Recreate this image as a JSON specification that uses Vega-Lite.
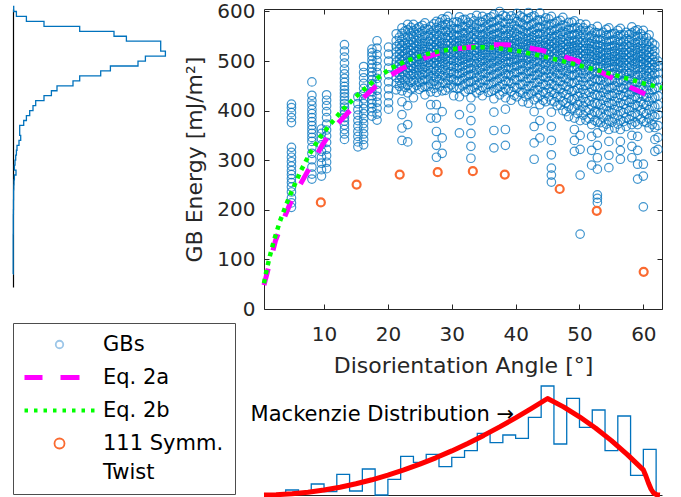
{
"$schema": "https://vega.github.io/schema/vega-lite/v6.json",
"padding": {"left": 10, "top": 1, "right": 6, "bottom": 2},
"bounds": "flush",
"spacing": 98,
"config": {
  "view": {"stroke": null},
  "font": "DejaVu Sans",
  "axis": {"labelFont": "DejaVu Sans", "titleFont": "DejaVu Sans", "labelColor": "#262626", "titleColor": "#262626", "domainColor": "#262626", "tickColor": "#262626", "grid": false, "titleFontWeight": "normal", "labelFlush": false},
  "style": {"guide-label": {"lineHeight": 29}}
},
"hconcat": [
{
  "width": 153, "height": 278,
  "data": {"values": [
    {"i":0,"c":0,"e":610},{"i":1,"c":0.7,"e":610},{"i":2,"c":3.4,"e":600},{"i":3,"c":13.4,"e":590},{"i":4,"c":31,"e":580},{"i":5,"c":66.7,"e":570},{"i":6,"c":101,"e":560},{"i":7,"c":113.4,"e":550},{"i":8,"c":147.7,"e":540},{"i":9,"c":147.7,"e":530},{"i":10,"c":152.4,"e":520},{"i":11,"c":132.4,"e":510},{"i":12,"c":125,"e":500},{"i":13,"c":97.4,"e":490},{"i":14,"c":87.7,"e":480},{"i":15,"c":66.7,"e":470},{"i":16,"c":60,"e":460},{"i":17,"c":44,"e":450},{"i":18,"c":38.4,"e":440},{"i":19,"c":31,"e":430},{"i":20,"c":22.7,"e":420},{"i":21,"c":20,"e":410},{"i":22,"c":16.7,"e":400},{"i":23,"c":13.4,"e":390},{"i":24,"c":10.7,"e":380},{"i":25,"c":6.7,"e":370},{"i":26,"c":6.7,"e":360},{"i":27,"c":7.7,"e":350},{"i":28,"c":6,"e":340},{"i":29,"c":4,"e":330},{"i":30,"c":3.4,"e":320},{"i":31,"c":2.7,"e":310},{"i":32,"c":2,"e":300},{"i":33,"c":1.4,"e":290},{"i":34,"c":3,"e":280},{"i":35,"c":1.4,"e":270},{"i":36,"c":1,"e":260},{"i":37,"c":0.8,"e":250},{"i":38,"c":0.6,"e":240},{"i":39,"c":0.6,"e":230},{"i":40,"c":0.5,"e":220},{"i":41,"c":0.5,"e":210},{"i":42,"c":0.4,"e":200},{"i":43,"c":0.3,"e":190},{"i":44,"c":0.3,"e":170},{"i":45,"c":0.2,"e":150},{"i":46,"c":0.2,"e":120},{"i":47,"c":0.2,"e":100},{"i":48,"c":0,"e":70}
  ]},
  "mark": {"type": "line", "interpolate": "step-before", "stroke": "#0072BD", "strokeWidth": 1.3},
  "encoding": {
    "x": {"field": "c", "type": "quantitative", "scale": {"domain": [0, 153], "nice": false}, "axis": null},
    "y": {"field": "e", "type": "quantitative", "scale": {"domain": [44, 605], "nice": false, "zero": false}, "axis": {"orient": "left", "ticks": false, "labels": false, "title": null, "domainColor": "#000000", "domainWidth": 1.2}},
    "order": {"field": "i", "type": "quantitative"}
  }
},
{
  "bounds": "flush",
  "spacing": 76,
  "vconcat": [
  {
    "width": 398, "height": 300,
    "resolve": {"axis": {"x": "independent", "y": "independent"}},
    "layer": [
    {
      "data": {"values": [
{"a":4.9,"e":205},{"a":4.9,"e":214},{"a":4.9,"e":224},{"a":4.9,"e":236},{"a":4.9,"e":246},{"a":4.9,"e":255},{"a":4.9,"e":263},{"a":4.9,"e":271},{"a":4.9,"e":279},{"a":4.9,"e":288},{"a":4.9,"e":297},{"a":4.9,"e":306},{"a":4.9,"e":316},{"a":4.9,"e":326},{"a":4.9,"e":376},{"a":4.9,"e":386},{"a":4.9,"e":396},{"a":4.9,"e":406},{"a":4.9,"e":413},
{"a":8.1,"e":262},{"a":8.1,"e":272},{"a":8.1,"e":286},{"a":8.1,"e":301},{"a":8.1,"e":314},{"a":8.1,"e":326},{"a":8.1,"e":338},{"a":8.1,"e":346},{"a":8.1,"e":354},{"a":8.1,"e":362},{"a":8.1,"e":370},{"a":8.1,"e":378},{"a":8.1,"e":386},{"a":8.1,"e":394},{"a":8.1,"e":402},{"a":8.1,"e":411},{"a":8.1,"e":420},{"a":8.1,"e":431},{"a":8.1,"e":458},
{"a":9.6,"e":268},{"a":9.6,"e":281},{"a":9.6,"e":294},{"a":9.6,"e":306},{"a":9.6,"e":318},{"a":9.6,"e":331},{"a":9.6,"e":343},{"a":9.6,"e":354},{"a":9.6,"e":363},
{"a":10.4,"e":283},{"a":10.4,"e":296},{"a":10.4,"e":309},{"a":10.4,"e":322},{"a":10.4,"e":336},{"a":10.4,"e":349},{"a":10.4,"e":361},{"a":10.4,"e":373},{"a":10.4,"e":386},{"a":10.4,"e":398},{"a":10.4,"e":410},{"a":10.4,"e":421},{"a":10.4,"e":432},
{"a":13.2,"e":342},{"a":13.2,"e":353},{"a":13.2,"e":362},{"a":13.2,"e":371},{"a":13.2,"e":379},{"a":13.2,"e":386},{"a":13.2,"e":393},{"a":13.2,"e":400},{"a":13.2,"e":407},{"a":13.2,"e":414},{"a":13.2,"e":421},{"a":13.2,"e":428},{"a":13.2,"e":435},{"a":13.2,"e":442},{"a":13.2,"e":449},{"a":13.2,"e":457},{"a":13.2,"e":465},{"a":13.2,"e":474},{"a":13.2,"e":484},{"a":13.2,"e":496},{"a":13.2,"e":508},{"a":13.2,"e":520},{"a":13.2,"e":533},
{"a":15.3,"e":327},{"a":15.3,"e":337},{"a":15.3,"e":348},{"a":15.3,"e":358},{"a":15.3,"e":369},{"a":15.3,"e":380},{"a":15.3,"e":391},{"a":15.3,"e":402},{"a":15.3,"e":414},{"a":15.3,"e":428},
{"a":16.2,"e":331},{"a":16.2,"e":342},{"a":16.2,"e":353},{"a":16.2,"e":364},{"a":16.2,"e":374},{"a":16.2,"e":384},{"a":16.2,"e":394},{"a":16.2,"e":404},{"a":16.2,"e":414},{"a":16.2,"e":424},{"a":16.2,"e":434},{"a":16.2,"e":445},{"a":16.2,"e":455},{"a":16.2,"e":466},{"a":16.2,"e":477},{"a":16.2,"e":489},
{"a":17.5,"e":389},{"a":17.5,"e":398},{"a":17.5,"e":406},{"a":17.5,"e":414},{"a":17.5,"e":422},{"a":17.5,"e":430},{"a":17.5,"e":438},{"a":17.5,"e":446},{"a":17.5,"e":454},{"a":17.5,"e":462},{"a":17.5,"e":470},{"a":17.5,"e":478},{"a":17.5,"e":486},{"a":17.5,"e":494},{"a":17.5,"e":502},{"a":17.5,"e":510},{"a":17.5,"e":517},{"a":17.5,"e":524},
{"a":18.3,"e":381},{"a":18.3,"e":393},{"a":18.3,"e":405},{"a":18.3,"e":417},{"a":18.3,"e":429},{"a":18.3,"e":441},{"a":18.3,"e":453},{"a":18.3,"e":465},{"a":18.3,"e":477},{"a":18.3,"e":489},{"a":18.3,"e":501},{"a":18.3,"e":513},{"a":18.3,"e":526},{"a":18.3,"e":541},
{"a":20.1,"e":403},{"a":20.1,"e":416},{"a":20.1,"e":430},{"a":20.1,"e":444},{"a":20.1,"e":458},{"a":20.1,"e":472},{"a":20.1,"e":486},{"a":20.1,"e":500},{"a":20.1,"e":514},{"a":20.1,"e":528},
{"a":21.3,"e":442},{"a":21.3,"e":455},{"a":21.3,"e":467},{"a":21.3,"e":478},{"a":21.3,"e":488},{"a":21.3,"e":498},{"a":21.3,"e":508},{"a":21.3,"e":518},{"a":21.3,"e":529},{"a":21.3,"e":541},{"a":21.3,"e":555},
{"a":22.2,"e":340},{"a":22.2,"e":365},{"a":22.2,"e":392},{"a":22.2,"e":418},{"a":22.2,"e":440},{"a":22.2,"e":454},{"a":22.2,"e":467},{"a":22.2,"e":479},{"a":22.2,"e":490},{"a":22.2,"e":500},{"a":22.2,"e":510},{"a":22.2,"e":520},{"a":22.2,"e":531},{"a":22.2,"e":543},{"a":22.2,"e":556},{"a":22.2,"e":567},
{"a":23.1,"e":337},{"a":23.1,"e":372},{"a":23.1,"e":410},{"a":23.1,"e":436},{"a":23.1,"e":451},{"a":23.1,"e":464},{"a":23.1,"e":476},{"a":23.1,"e":487},{"a":23.1,"e":497},{"a":23.1,"e":507},{"a":23.1,"e":517},{"a":23.1,"e":527},{"a":23.1,"e":538},{"a":23.1,"e":550},{"a":23.1,"e":563},{"a":23.1,"e":574},
{"a":24.0,"e":426},{"a":24.0,"e":446},{"a":24.0,"e":460},{"a":24.0,"e":473},{"a":24.0,"e":485},{"a":24.0,"e":496},{"a":24.0,"e":506},{"a":24.0,"e":516},{"a":24.0,"e":526},{"a":24.0,"e":537},{"a":24.0,"e":549},{"a":24.0,"e":561},{"a":24.0,"e":574},
{"a":24.9,"e":443},{"a":24.9,"e":457},{"a":24.9,"e":470},{"a":24.9,"e":482},{"a":24.9,"e":493},{"a":24.9,"e":503},{"a":24.9,"e":513},{"a":24.9,"e":523},{"a":24.9,"e":534},{"a":24.9,"e":545},{"a":24.9,"e":557},{"a":24.9,"e":569},
{"a":25.8,"e":432},{"a":25.8,"e":449},{"a":25.8,"e":463},{"a":25.8,"e":476},{"a":25.8,"e":488},{"a":25.8,"e":499},{"a":25.8,"e":509},{"a":25.8,"e":519},{"a":25.8,"e":529},{"a":25.8,"e":540},{"a":25.8,"e":552},{"a":25.8,"e":565},{"a":25.8,"e":577},
{"a":26.7,"e":385},{"a":26.7,"e":412},{"a":26.7,"e":438},{"a":26.7,"e":454},{"a":26.7,"e":468},{"a":26.7,"e":481},{"a":26.7,"e":493},{"a":26.7,"e":504},{"a":26.7,"e":514},{"a":26.7,"e":524},{"a":26.7,"e":534},{"a":26.7,"e":545},{"a":26.7,"e":557},{"a":26.7,"e":570},
{"a":27.6,"e":306},{"a":27.6,"e":330},{"a":27.6,"e":358},{"a":27.6,"e":385},{"a":27.6,"e":412},{"a":27.6,"e":437},{"a":27.6,"e":452},{"a":27.6,"e":466},{"a":27.6,"e":479},{"a":27.6,"e":491},{"a":27.6,"e":502},{"a":27.6,"e":512},{"a":27.6,"e":522},{"a":27.6,"e":532},{"a":27.6,"e":543},{"a":27.6,"e":555},{"a":27.6,"e":568},{"a":27.6,"e":580},
{"a":28.5,"e":314},{"a":28.5,"e":345},{"a":28.5,"e":398},{"a":28.5,"e":440},{"a":28.5,"e":456},{"a":28.5,"e":470},{"a":28.5,"e":483},{"a":28.5,"e":495},{"a":28.5,"e":506},{"a":28.5,"e":516},{"a":28.5,"e":526},{"a":28.5,"e":536},{"a":28.5,"e":547},{"a":28.5,"e":559},{"a":28.5,"e":572},{"a":28.5,"e":585},
{"a":29.4,"e":446},{"a":29.4,"e":461},{"a":29.4,"e":475},{"a":29.4,"e":488},{"a":29.4,"e":500},{"a":29.4,"e":511},{"a":29.4,"e":521},{"a":29.4,"e":531},{"a":29.4,"e":541},{"a":29.4,"e":552},{"a":29.4,"e":564},{"a":29.4,"e":577},{"a":29.4,"e":590},
{"a":30.3,"e":430},{"a":30.3,"e":447},{"a":30.3,"e":462},{"a":30.3,"e":476},{"a":30.3,"e":489},{"a":30.3,"e":501},{"a":30.3,"e":512},{"a":30.3,"e":522},{"a":30.3,"e":532},{"a":30.3,"e":542},{"a":30.3,"e":553},{"a":30.3,"e":565},{"a":30.3,"e":578},
{"a":31.2,"e":355},{"a":31.2,"e":392},{"a":31.2,"e":428},{"a":31.2,"e":446},{"a":31.2,"e":461},{"a":31.2,"e":475},{"a":31.2,"e":488},{"a":31.2,"e":500},{"a":31.2,"e":511},{"a":31.2,"e":521},{"a":31.2,"e":531},{"a":31.2,"e":541},{"a":31.2,"e":552},{"a":31.2,"e":564},{"a":31.2,"e":577},{"a":31.2,"e":589},
{"a":32.1,"e":438},{"a":32.1,"e":454},{"a":32.1,"e":468},{"a":32.1,"e":481},{"a":32.1,"e":493},{"a":32.1,"e":504},{"a":32.1,"e":514},{"a":32.1,"e":524},{"a":32.1,"e":534},{"a":32.1,"e":545},{"a":32.1,"e":557},{"a":32.1,"e":570},{"a":32.1,"e":584},
{"a":33.0,"e":304},{"a":33.0,"e":328},{"a":33.0,"e":354},{"a":33.0,"e":380},{"a":33.0,"e":405},{"a":33.0,"e":426},{"a":33.0,"e":443},{"a":33.0,"e":458},{"a":33.0,"e":472},{"a":33.0,"e":485},{"a":33.0,"e":497},{"a":33.0,"e":508},{"a":33.0,"e":518},{"a":33.0,"e":528},{"a":33.0,"e":538},{"a":33.0,"e":549},{"a":33.0,"e":561},{"a":33.0,"e":574},{"a":33.0,"e":587},
{"a":33.9,"e":436},{"a":33.9,"e":452},{"a":33.9,"e":467},{"a":33.9,"e":481},{"a":33.9,"e":494},{"a":33.9,"e":506},{"a":33.9,"e":517},{"a":33.9,"e":527},{"a":33.9,"e":537},{"a":33.9,"e":548},{"a":33.9,"e":560},{"a":33.9,"e":573},{"a":33.9,"e":592},
{"a":34.8,"e":430},{"a":34.8,"e":447},{"a":34.8,"e":462},{"a":34.8,"e":476},{"a":34.8,"e":489},{"a":34.8,"e":501},{"a":34.8,"e":512},{"a":34.8,"e":522},{"a":34.8,"e":532},{"a":34.8,"e":542},{"a":34.8,"e":553},{"a":34.8,"e":565},{"a":34.8,"e":578},{"a":34.8,"e":590},
{"a":35.7,"e":437},{"a":35.7,"e":453},{"a":35.7,"e":468},{"a":35.7,"e":482},{"a":35.7,"e":495},{"a":35.7,"e":507},{"a":35.7,"e":518},{"a":35.7,"e":528},{"a":35.7,"e":538},{"a":35.7,"e":549},{"a":35.7,"e":561},{"a":35.7,"e":574},{"a":35.7,"e":587},
{"a":36.6,"e":325},{"a":36.6,"e":360},{"a":36.6,"e":397},{"a":36.6,"e":424},{"a":36.6,"e":442},{"a":36.6,"e":458},{"a":36.6,"e":473},{"a":36.6,"e":487},{"a":36.6,"e":500},{"a":36.6,"e":512},{"a":36.6,"e":523},{"a":36.6,"e":533},{"a":36.6,"e":543},{"a":36.6,"e":554},{"a":36.6,"e":566},{"a":36.6,"e":579},{"a":36.6,"e":594},
{"a":37.5,"e":432},{"a":37.5,"e":449},{"a":37.5,"e":465},{"a":37.5,"e":479},{"a":37.5,"e":492},{"a":37.5,"e":504},{"a":37.5,"e":515},{"a":37.5,"e":525},{"a":37.5,"e":535},{"a":37.5,"e":546},{"a":37.5,"e":558},{"a":37.5,"e":571},{"a":37.5,"e":585},{"a":37.5,"e":600},
{"a":38.4,"e":330},{"a":38.4,"e":362},{"a":38.4,"e":403},{"a":38.4,"e":426},{"a":38.4,"e":444},{"a":38.4,"e":460},{"a":38.4,"e":474},{"a":38.4,"e":487},{"a":38.4,"e":499},{"a":38.4,"e":510},{"a":38.4,"e":520},{"a":38.4,"e":530},{"a":38.4,"e":540},{"a":38.4,"e":551},{"a":38.4,"e":563},{"a":38.4,"e":576},{"a":38.4,"e":590},
{"a":39.3,"e":421},{"a":39.3,"e":439},{"a":39.3,"e":455},{"a":39.3,"e":470},{"a":39.3,"e":484},{"a":39.3,"e":497},{"a":39.3,"e":509},{"a":39.3,"e":520},{"a":39.3,"e":530},{"a":39.3,"e":540},{"a":39.3,"e":551},{"a":39.3,"e":563},{"a":39.3,"e":576},{"a":39.3,"e":591},
{"a":40.2,"e":428},{"a":40.2,"e":446},{"a":40.2,"e":462},{"a":40.2,"e":477},{"a":40.2,"e":490},{"a":40.2,"e":502},{"a":40.2,"e":513},{"a":40.2,"e":523},{"a":40.2,"e":533},{"a":40.2,"e":543},{"a":40.2,"e":554},{"a":40.2,"e":566},{"a":40.2,"e":580},{"a":40.2,"e":596},
{"a":41.1,"e":418},{"a":41.1,"e":436},{"a":41.1,"e":453},{"a":41.1,"e":468},{"a":41.1,"e":482},{"a":41.1,"e":495},{"a":41.1,"e":507},{"a":41.1,"e":518},{"a":41.1,"e":528},{"a":41.1,"e":538},{"a":41.1,"e":549},{"a":41.1,"e":561},{"a":41.1,"e":574},{"a":41.1,"e":588},
{"a":42.0,"e":415},{"a":42.0,"e":433},{"a":42.0,"e":450},{"a":42.0,"e":465},{"a":42.0,"e":479},{"a":42.0,"e":492},{"a":42.0,"e":504},{"a":42.0,"e":515},{"a":42.0,"e":525},{"a":42.0,"e":535},{"a":42.0,"e":546},{"a":42.0,"e":558},{"a":42.0,"e":571},{"a":42.0,"e":586},{"a":42.0,"e":598},
{"a":42.9,"e":302},{"a":42.9,"e":335},{"a":42.9,"e":368},{"a":42.9,"e":398},{"a":42.9,"e":422},{"a":42.9,"e":440},{"a":42.9,"e":456},{"a":42.9,"e":471},{"a":42.9,"e":485},{"a":42.9,"e":498},{"a":42.9,"e":510},{"a":42.9,"e":521},{"a":42.9,"e":531},{"a":42.9,"e":541},{"a":42.9,"e":552},{"a":42.9,"e":564},{"a":42.9,"e":577},{"a":42.9,"e":591},
{"a":43.8,"e":345},{"a":43.8,"e":380},{"a":43.8,"e":412},{"a":43.8,"e":431},{"a":43.8,"e":448},{"a":43.8,"e":463},{"a":43.8,"e":477},{"a":43.8,"e":490},{"a":43.8,"e":502},{"a":43.8,"e":513},{"a":43.8,"e":523},{"a":43.8,"e":533},{"a":43.8,"e":544},{"a":43.8,"e":556},{"a":43.8,"e":569},{"a":43.8,"e":583},{"a":43.8,"e":597},
{"a":44.7,"e":418},{"a":44.7,"e":436},{"a":44.7,"e":452},{"a":44.7,"e":467},{"a":44.7,"e":481},{"a":44.7,"e":494},{"a":44.7,"e":506},{"a":44.7,"e":517},{"a":44.7,"e":527},{"a":44.7,"e":537},{"a":44.7,"e":548},{"a":44.7,"e":560},{"a":44.7,"e":573},{"a":44.7,"e":587},
{"a":45.6,"e":256},{"a":45.6,"e":270},{"a":45.6,"e":284},{"a":45.6,"e":311},{"a":45.6,"e":340},{"a":45.6,"e":368},{"a":45.6,"e":397},{"a":45.6,"e":420},{"a":45.6,"e":438},{"a":45.6,"e":454},{"a":45.6,"e":469},{"a":45.6,"e":483},{"a":45.6,"e":496},{"a":45.6,"e":508},{"a":45.6,"e":519},{"a":45.6,"e":529},{"a":45.6,"e":539},{"a":45.6,"e":550},{"a":45.6,"e":562},{"a":45.6,"e":575},{"a":45.6,"e":590},
{"a":46.5,"e":410},{"a":46.5,"e":428},{"a":46.5,"e":445},{"a":46.5,"e":460},{"a":46.5,"e":474},{"a":46.5,"e":487},{"a":46.5,"e":499},{"a":46.5,"e":510},{"a":46.5,"e":520},{"a":46.5,"e":530},{"a":46.5,"e":541},{"a":46.5,"e":553},{"a":46.5,"e":566},{"a":46.5,"e":580},
{"a":47.4,"e":400},{"a":47.4,"e":419},{"a":47.4,"e":436},{"a":47.4,"e":452},{"a":47.4,"e":467},{"a":47.4,"e":481},{"a":47.4,"e":494},{"a":47.4,"e":506},{"a":47.4,"e":517},{"a":47.4,"e":527},{"a":47.4,"e":537},{"a":47.4,"e":548},{"a":47.4,"e":560},{"a":47.4,"e":573},{"a":47.4,"e":588},
{"a":48.3,"e":388},{"a":48.3,"e":408},{"a":48.3,"e":426},{"a":48.3,"e":443},{"a":48.3,"e":458},{"a":48.3,"e":472},{"a":48.3,"e":485},{"a":48.3,"e":497},{"a":48.3,"e":508},{"a":48.3,"e":518},{"a":48.3,"e":528},{"a":48.3,"e":539},{"a":48.3,"e":551},{"a":48.3,"e":564},{"a":48.3,"e":578},
{"a":49.2,"e":318},{"a":49.2,"e":340},{"a":49.2,"e":362},{"a":49.2,"e":385},{"a":49.2,"e":405},{"a":49.2,"e":424},{"a":49.2,"e":441},{"a":49.2,"e":457},{"a":49.2,"e":472},{"a":49.2,"e":486},{"a":49.2,"e":499},{"a":49.2,"e":511},{"a":49.2,"e":521},{"a":49.2,"e":531},{"a":49.2,"e":542},{"a":49.2,"e":554},{"a":49.2,"e":567},{"a":49.2,"e":581},
{"a":50.1,"e":151},{"a":50.1,"e":270},{"a":50.1,"e":322},{"a":50.1,"e":350},{"a":50.1,"e":380},{"a":50.1,"e":400},{"a":50.1,"e":419},{"a":50.1,"e":436},{"a":50.1,"e":452},{"a":50.1,"e":467},{"a":50.1,"e":481},{"a":50.1,"e":494},{"a":50.1,"e":506},{"a":50.1,"e":516},{"a":50.1,"e":526},{"a":50.1,"e":537},{"a":50.1,"e":549},{"a":50.1,"e":562},{"a":50.1,"e":575},
{"a":51.0,"e":381},{"a":51.0,"e":400},{"a":51.0,"e":418},{"a":51.0,"e":435},{"a":51.0,"e":451},{"a":51.0,"e":466},{"a":51.0,"e":480},{"a":51.0,"e":493},{"a":51.0,"e":505},{"a":51.0,"e":515},{"a":51.0,"e":525},{"a":51.0,"e":536},{"a":51.0,"e":548},{"a":51.0,"e":561},{"a":51.0,"e":574},
{"a":51.9,"e":290},{"a":51.9,"e":320},{"a":51.9,"e":348},{"a":51.9,"e":372},{"a":51.9,"e":392},{"a":51.9,"e":411},{"a":51.9,"e":428},{"a":51.9,"e":444},{"a":51.9,"e":459},{"a":51.9,"e":473},{"a":51.9,"e":486},{"a":51.9,"e":498},{"a":51.9,"e":509},{"a":51.9,"e":519},{"a":51.9,"e":529},{"a":51.9,"e":540},{"a":51.9,"e":552},{"a":51.9,"e":565},
{"a":52.8,"e":215},{"a":52.8,"e":223},{"a":52.8,"e":230},{"a":52.8,"e":282},{"a":52.8,"e":305},{"a":52.8,"e":330},{"a":52.8,"e":355},{"a":52.8,"e":377},{"a":52.8,"e":396},{"a":52.8,"e":414},{"a":52.8,"e":431},{"a":52.8,"e":447},{"a":52.8,"e":462},{"a":52.8,"e":476},{"a":52.8,"e":489},{"a":52.8,"e":501},{"a":52.8,"e":511},{"a":52.8,"e":521},{"a":52.8,"e":532},{"a":52.8,"e":544},{"a":52.8,"e":557},{"a":52.8,"e":570},
{"a":53.7,"e":367},{"a":53.7,"e":386},{"a":53.7,"e":404},{"a":53.7,"e":421},{"a":53.7,"e":437},{"a":53.7,"e":452},{"a":53.7,"e":466},{"a":53.7,"e":479},{"a":53.7,"e":491},{"a":53.7,"e":502},{"a":53.7,"e":512},{"a":53.7,"e":522},{"a":53.7,"e":533},{"a":53.7,"e":545},{"a":53.7,"e":558},
{"a":54.6,"e":285},{"a":54.6,"e":310},{"a":54.6,"e":338},{"a":54.6,"e":362},{"a":54.6,"e":381},{"a":54.6,"e":399},{"a":54.6,"e":416},{"a":54.6,"e":432},{"a":54.6,"e":447},{"a":54.6,"e":461},{"a":54.6,"e":474},{"a":54.6,"e":486},{"a":54.6,"e":497},{"a":54.6,"e":507},{"a":54.6,"e":517},{"a":54.6,"e":528},{"a":54.6,"e":540},{"a":54.6,"e":553},{"a":54.6,"e":567},
{"a":55.5,"e":365},{"a":55.5,"e":384},{"a":55.5,"e":402},{"a":55.5,"e":419},{"a":55.5,"e":435},{"a":55.5,"e":450},{"a":55.5,"e":464},{"a":55.5,"e":477},{"a":55.5,"e":489},{"a":55.5,"e":500},{"a":55.5,"e":510},{"a":55.5,"e":520},{"a":55.5,"e":531},{"a":55.5,"e":543},{"a":55.5,"e":556},
{"a":56.4,"e":302},{"a":56.4,"e":320},{"a":56.4,"e":338},{"a":56.4,"e":362},{"a":56.4,"e":381},{"a":56.4,"e":399},{"a":56.4,"e":416},{"a":56.4,"e":432},{"a":56.4,"e":447},{"a":56.4,"e":461},{"a":56.4,"e":474},{"a":56.4,"e":486},{"a":56.4,"e":497},{"a":56.4,"e":507},{"a":56.4,"e":517},{"a":56.4,"e":528},{"a":56.4,"e":540},{"a":56.4,"e":553},{"a":56.4,"e":566},
{"a":57.3,"e":368},{"a":57.3,"e":386},{"a":57.3,"e":404},{"a":57.3,"e":421},{"a":57.3,"e":437},{"a":57.3,"e":452},{"a":57.3,"e":466},{"a":57.3,"e":479},{"a":57.3,"e":491},{"a":57.3,"e":502},{"a":57.3,"e":512},{"a":57.3,"e":522},{"a":57.3,"e":533},{"a":57.3,"e":545},{"a":57.3,"e":558},
{"a":58.2,"e":305},{"a":58.2,"e":328},{"a":58.2,"e":350},{"a":58.2,"e":372},{"a":58.2,"e":390},{"a":58.2,"e":407},{"a":58.2,"e":423},{"a":58.2,"e":438},{"a":58.2,"e":452},{"a":58.2,"e":465},{"a":58.2,"e":478},{"a":58.2,"e":490},{"a":58.2,"e":501},{"a":58.2,"e":511},{"a":58.2,"e":521},{"a":58.2,"e":532},{"a":58.2,"e":544},{"a":58.2,"e":557},{"a":58.2,"e":569},
{"a":59.1,"e":262},{"a":59.1,"e":292},{"a":59.1,"e":320},{"a":59.1,"e":348},{"a":59.1,"e":372},{"a":59.1,"e":391},{"a":59.1,"e":409},{"a":59.1,"e":426},{"a":59.1,"e":442},{"a":59.1,"e":457},{"a":59.1,"e":471},{"a":59.1,"e":484},{"a":59.1,"e":496},{"a":59.1,"e":507},{"a":59.1,"e":517},{"a":59.1,"e":527},{"a":59.1,"e":538},{"a":59.1,"e":550},{"a":59.1,"e":563},
{"a":60.0,"e":206},{"a":60.0,"e":268},{"a":60.0,"e":292},{"a":60.0,"e":378},{"a":60.0,"e":396},{"a":60.0,"e":413},{"a":60.0,"e":429},{"a":60.0,"e":444},{"a":60.0,"e":458},{"a":60.0,"e":471},{"a":60.0,"e":483},{"a":60.0,"e":494},{"a":60.0,"e":504},{"a":60.0,"e":514},{"a":60.0,"e":525},{"a":60.0,"e":537},{"a":60.0,"e":550},{"a":60.0,"e":562},
{"a":60.9,"e":365},{"a":60.9,"e":384},{"a":60.9,"e":402},{"a":60.9,"e":419},{"a":60.9,"e":435},{"a":60.9,"e":450},{"a":60.9,"e":463},{"a":60.9,"e":475},{"a":60.9,"e":486},{"a":60.9,"e":497},{"a":60.9,"e":507},{"a":60.9,"e":517},{"a":60.9,"e":528},{"a":60.9,"e":540},{"a":60.9,"e":553},
{"a":61.8,"e":318},{"a":61.8,"e":342},{"a":61.8,"e":366},{"a":61.8,"e":388},{"a":61.8,"e":408},{"a":61.8,"e":427},{"a":61.8,"e":444},{"a":61.8,"e":460},{"a":61.8,"e":474},{"a":61.8,"e":487},{"a":61.8,"e":498},{"a":61.8,"e":509},{"a":61.8,"e":520},{"a":61.8,"e":532},
{"a":62.3,"e":322},{"a":62.3,"e":346},{"a":62.3,"e":370},{"a":62.3,"e":392},{"a":62.3,"e":412},{"a":62.3,"e":430},{"a":62.3,"e":447},{"a":62.3,"e":462},{"a":62.3,"e":476},{"a":62.3,"e":489},{"a":62.3,"e":500},
{"a":21.8,"e":449},{"a":21.8,"e":461},{"a":21.8,"e":473},{"a":21.8,"e":484},{"a":21.8,"e":494},{"a":21.8,"e":504},{"a":21.8,"e":514},{"a":21.8,"e":524},{"a":21.8,"e":535},{"a":21.8,"e":548},
{"a":22.7,"e":447},{"a":22.7,"e":460},{"a":22.7,"e":472},{"a":22.7,"e":484},{"a":22.7,"e":495},{"a":22.7,"e":505},{"a":22.7,"e":515},{"a":22.7,"e":525},{"a":22.7,"e":536},{"a":22.7,"e":548},{"a":22.7,"e":561},
{"a":23.6,"e":444},{"a":23.6,"e":457},{"a":23.6,"e":470},{"a":23.6,"e":481},{"a":23.6,"e":491},{"a":23.6,"e":501},{"a":23.6,"e":511},{"a":23.6,"e":521},{"a":23.6,"e":532},{"a":23.6,"e":544},{"a":23.6,"e":556},{"a":23.6,"e":568},
{"a":24.5,"e":451},{"a":24.5,"e":464},{"a":24.5,"e":476},{"a":24.5,"e":488},{"a":24.5,"e":499},{"a":24.5,"e":509},{"a":24.5,"e":519},{"a":24.5,"e":530},{"a":24.5,"e":541},{"a":24.5,"e":553},{"a":24.5,"e":565},
{"a":25.4,"e":447},{"a":25.4,"e":460},{"a":25.4,"e":472},{"a":25.4,"e":483},{"a":25.4,"e":494},{"a":25.4,"e":504},{"a":25.4,"e":514},{"a":25.4,"e":524},{"a":25.4,"e":535},{"a":25.4,"e":547},{"a":25.4,"e":560},{"a":25.4,"e":572},
{"a":26.3,"e":449},{"a":26.3,"e":462},{"a":26.3,"e":474},{"a":26.3,"e":486},{"a":26.3,"e":497},{"a":26.3,"e":507},{"a":26.3,"e":517},{"a":26.3,"e":528},{"a":26.3,"e":539},{"a":26.3,"e":551},{"a":26.3,"e":564},
{"a":27.2,"e":445},{"a":27.2,"e":459},{"a":27.2,"e":471},{"a":27.2,"e":484},{"a":27.2,"e":496},{"a":27.2,"e":507},{"a":27.2,"e":517},{"a":27.2,"e":527},{"a":27.2,"e":538},{"a":27.2,"e":550},{"a":27.2,"e":562},{"a":27.2,"e":575},
{"a":28.1,"e":448},{"a":28.1,"e":462},{"a":28.1,"e":475},{"a":28.1,"e":487},{"a":28.1,"e":498},{"a":28.1,"e":509},{"a":28.1,"e":519},{"a":28.1,"e":529},{"a":28.1,"e":540},{"a":28.1,"e":552},{"a":28.1,"e":565},{"a":28.1,"e":578},
{"a":29.0,"e":441},{"a":29.0,"e":455},{"a":29.0,"e":468},{"a":29.0,"e":481},{"a":29.0,"e":493},{"a":29.0,"e":504},{"a":29.0,"e":514},{"a":29.0,"e":524},{"a":29.0,"e":535},{"a":29.0,"e":547},{"a":29.0,"e":560},{"a":29.0,"e":573},{"a":29.0,"e":584},
{"a":29.9,"e":452},{"a":29.9,"e":466},{"a":29.9,"e":479},{"a":29.9,"e":491},{"a":29.9,"e":503},{"a":29.9,"e":514},{"a":29.9,"e":524},{"a":29.9,"e":535},{"a":29.9,"e":546},{"a":29.9,"e":558},{"a":29.9,"e":571},
{"a":30.8,"e":445},{"a":30.8,"e":459},{"a":30.8,"e":472},{"a":30.8,"e":485},{"a":30.8,"e":497},{"a":30.8,"e":508},{"a":30.8,"e":518},{"a":30.8,"e":529},{"a":30.8,"e":540},{"a":30.8,"e":552},{"a":30.8,"e":565},{"a":30.8,"e":579},
{"a":31.7,"e":450},{"a":31.7,"e":464},{"a":31.7,"e":477},{"a":31.7,"e":490},{"a":31.7,"e":502},{"a":31.7,"e":513},{"a":31.7,"e":523},{"a":31.7,"e":534},{"a":31.7,"e":545},{"a":31.7,"e":557},{"a":31.7,"e":570},{"a":31.7,"e":583},
{"a":32.6,"e":443},{"a":32.6,"e":458},{"a":32.6,"e":471},{"a":32.6,"e":484},{"a":32.6,"e":496},{"a":32.6,"e":508},{"a":32.6,"e":518},{"a":32.6,"e":529},{"a":32.6,"e":540},{"a":32.6,"e":552},{"a":32.6,"e":565},{"a":32.6,"e":578},
{"a":33.5,"e":447},{"a":33.5,"e":461},{"a":33.5,"e":475},{"a":33.5,"e":488},{"a":33.5,"e":500},{"a":33.5,"e":511},{"a":33.5,"e":521},{"a":33.5,"e":532},{"a":33.5,"e":543},{"a":33.5,"e":555},{"a":33.5,"e":568},{"a":33.5,"e":581},
{"a":34.4,"e":441},{"a":34.4,"e":456},{"a":34.4,"e":470},{"a":34.4,"e":484},{"a":34.4,"e":497},{"a":34.4,"e":509},{"a":34.4,"e":520},{"a":34.4,"e":530},{"a":34.4,"e":541},{"a":34.4,"e":553},{"a":34.4,"e":566},{"a":34.4,"e":580},
{"a":35.3,"e":446},{"a":35.3,"e":461},{"a":35.3,"e":475},{"a":35.3,"e":489},{"a":35.3,"e":501},{"a":35.3,"e":513},{"a":35.3,"e":523},{"a":35.3,"e":533},{"a":35.3,"e":544},{"a":35.3,"e":556},{"a":35.3,"e":569},{"a":35.3,"e":583},
{"a":36.2,"e":439},{"a":36.2,"e":454},{"a":36.2,"e":468},{"a":36.2,"e":482},{"a":36.2,"e":495},{"a":36.2,"e":507},{"a":36.2,"e":518},{"a":36.2,"e":528},{"a":36.2,"e":539},{"a":36.2,"e":551},{"a":36.2,"e":564},{"a":36.2,"e":578},{"a":36.2,"e":589},
{"a":37.1,"e":445},{"a":37.1,"e":460},{"a":37.1,"e":474},{"a":37.1,"e":488},{"a":37.1,"e":500},{"a":37.1,"e":511},{"a":37.1,"e":522},{"a":37.1,"e":532},{"a":37.1,"e":543},{"a":37.1,"e":555},{"a":37.1,"e":568},{"a":37.1,"e":582},
{"a":38.0,"e":438},{"a":38.0,"e":453},{"a":38.0,"e":468},{"a":38.0,"e":482},{"a":38.0,"e":495},{"a":38.0,"e":507},{"a":38.0,"e":518},{"a":38.0,"e":528},{"a":38.0,"e":539},{"a":38.0,"e":551},{"a":38.0,"e":564},{"a":38.0,"e":578},{"a":38.0,"e":592},
{"a":38.9,"e":444},{"a":38.9,"e":459},{"a":38.9,"e":473},{"a":38.9,"e":487},{"a":38.9,"e":499},{"a":38.9,"e":511},{"a":38.9,"e":522},{"a":38.9,"e":532},{"a":38.9,"e":543},{"a":38.9,"e":555},{"a":38.9,"e":569},{"a":38.9,"e":584},
{"a":39.8,"e":431},{"a":39.8,"e":447},{"a":39.8,"e":462},{"a":39.8,"e":476},{"a":39.8,"e":490},{"a":39.8,"e":503},{"a":39.8,"e":514},{"a":39.8,"e":525},{"a":39.8,"e":535},{"a":39.8,"e":546},{"a":39.8,"e":558},{"a":39.8,"e":572},{"a":39.8,"e":586},
{"a":40.7,"e":437},{"a":40.7,"e":453},{"a":40.7,"e":468},{"a":40.7,"e":482},{"a":40.7,"e":495},{"a":40.7,"e":507},{"a":40.7,"e":518},{"a":40.7,"e":528},{"a":40.7,"e":539},{"a":40.7,"e":551},{"a":40.7,"e":564},{"a":40.7,"e":578},{"a":40.7,"e":591},
{"a":41.6,"e":428},{"a":41.6,"e":444},{"a":41.6,"e":459},{"a":41.6,"e":474},{"a":41.6,"e":488},{"a":41.6,"e":501},{"a":41.6,"e":512},{"a":41.6,"e":523},{"a":41.6,"e":533},{"a":41.6,"e":544},{"a":41.6,"e":556},{"a":41.6,"e":569},{"a":41.6,"e":583},
{"a":42.5,"e":434},{"a":42.5,"e":450},{"a":42.5,"e":465},{"a":42.5,"e":479},{"a":42.5,"e":493},{"a":42.5,"e":505},{"a":42.5,"e":516},{"a":42.5,"e":527},{"a":42.5,"e":537},{"a":42.5,"e":548},{"a":42.5,"e":560},{"a":42.5,"e":574},{"a":42.5,"e":589},
{"a":43.4,"e":426},{"a":43.4,"e":442},{"a":43.4,"e":457},{"a":43.4,"e":472},{"a":43.4,"e":486},{"a":43.4,"e":499},{"a":43.4,"e":511},{"a":43.4,"e":522},{"a":43.4,"e":532},{"a":43.4,"e":543},{"a":43.4,"e":555},{"a":43.4,"e":568},{"a":43.4,"e":582},
{"a":44.3,"e":421},{"a":44.3,"e":438},{"a":44.3,"e":454},{"a":44.3,"e":469},{"a":44.3,"e":483},{"a":44.3,"e":496},{"a":44.3,"e":508},{"a":44.3,"e":519},{"a":44.3,"e":530},{"a":44.3,"e":541},{"a":44.3,"e":553},{"a":44.3,"e":566},{"a":44.3,"e":580},
{"a":45.2,"e":428},{"a":45.2,"e":445},{"a":45.2,"e":460},{"a":45.2,"e":475},{"a":45.2,"e":489},{"a":45.2,"e":502},{"a":45.2,"e":513},{"a":45.2,"e":524},{"a":45.2,"e":534},{"a":45.2,"e":545},{"a":45.2,"e":557},{"a":45.2,"e":571},{"a":45.2,"e":585},
{"a":46.1,"e":418},{"a":46.1,"e":435},{"a":46.1,"e":451},{"a":46.1,"e":466},{"a":46.1,"e":480},{"a":46.1,"e":493},{"a":46.1,"e":505},{"a":46.1,"e":516},{"a":46.1,"e":526},{"a":46.1,"e":537},{"a":46.1,"e":549},{"a":46.1,"e":562},{"a":46.1,"e":576},
{"a":47.0,"e":411},{"a":47.0,"e":428},{"a":47.0,"e":444},{"a":47.0,"e":459},{"a":47.0,"e":474},{"a":47.0,"e":487},{"a":47.0,"e":500},{"a":47.0,"e":511},{"a":47.0,"e":522},{"a":47.0,"e":532},{"a":47.0,"e":543},{"a":47.0,"e":555},{"a":47.0,"e":568},{"a":47.0,"e":582},
{"a":47.9,"e":398},{"a":47.9,"e":416},{"a":47.9,"e":433},{"a":47.9,"e":449},{"a":47.9,"e":464},{"a":47.9,"e":478},{"a":47.9,"e":491},{"a":47.9,"e":503},{"a":47.9,"e":514},{"a":47.9,"e":524},{"a":47.9,"e":534},{"a":47.9,"e":545},{"a":47.9,"e":557},{"a":47.9,"e":570},
{"a":48.8,"e":404},{"a":48.8,"e":422},{"a":48.8,"e":439},{"a":48.8,"e":455},{"a":48.8,"e":470},{"a":48.8,"e":484},{"a":48.8,"e":497},{"a":48.8,"e":509},{"a":48.8,"e":519},{"a":48.8,"e":529},{"a":48.8,"e":540},{"a":48.8,"e":552},{"a":48.8,"e":565},{"a":48.8,"e":578},
{"a":49.7,"e":394},{"a":49.7,"e":412},{"a":49.7,"e":429},{"a":49.7,"e":445},{"a":49.7,"e":461},{"a":49.7,"e":476},{"a":49.7,"e":489},{"a":49.7,"e":501},{"a":49.7,"e":512},{"a":49.7,"e":522},{"a":49.7,"e":532},{"a":49.7,"e":543},{"a":49.7,"e":555},{"a":49.7,"e":568},
{"a":50.6,"e":391},{"a":50.6,"e":409},{"a":50.6,"e":426},{"a":50.6,"e":443},{"a":50.6,"e":459},{"a":50.6,"e":474},{"a":50.6,"e":487},{"a":50.6,"e":499},{"a":50.6,"e":510},{"a":50.6,"e":520},{"a":50.6,"e":530},{"a":50.6,"e":541},{"a":50.6,"e":554},{"a":50.6,"e":567},
{"a":51.5,"e":384},{"a":51.5,"e":402},{"a":51.5,"e":420},{"a":51.5,"e":437},{"a":51.5,"e":453},{"a":51.5,"e":468},{"a":51.5,"e":482},{"a":51.5,"e":494},{"a":51.5,"e":505},{"a":51.5,"e":515},{"a":51.5,"e":525},{"a":51.5,"e":536},{"a":51.5,"e":548},{"a":51.5,"e":561},
{"a":52.4,"e":380},{"a":52.4,"e":398},{"a":52.4,"e":416},{"a":52.4,"e":433},{"a":52.4,"e":449},{"a":52.4,"e":464},{"a":52.4,"e":478},{"a":52.4,"e":491},{"a":52.4,"e":502},{"a":52.4,"e":512},{"a":52.4,"e":522},{"a":52.4,"e":533},{"a":52.4,"e":545},{"a":52.4,"e":558},
{"a":53.3,"e":376},{"a":53.3,"e":395},{"a":53.3,"e":413},{"a":53.3,"e":430},{"a":53.3,"e":446},{"a":53.3,"e":461},{"a":53.3,"e":475},{"a":53.3,"e":488},{"a":53.3,"e":499},{"a":53.3,"e":509},{"a":53.3,"e":519},{"a":53.3,"e":530},{"a":53.3,"e":542},{"a":53.3,"e":555},
{"a":54.2,"e":373},{"a":54.2,"e":392},{"a":54.2,"e":410},{"a":54.2,"e":427},{"a":54.2,"e":443},{"a":54.2,"e":458},{"a":54.2,"e":472},{"a":54.2,"e":485},{"a":54.2,"e":496},{"a":54.2,"e":506},{"a":54.2,"e":516},{"a":54.2,"e":527},{"a":54.2,"e":539},{"a":54.2,"e":552},{"a":54.2,"e":564},
{"a":55.1,"e":377},{"a":55.1,"e":395},{"a":55.1,"e":413},{"a":55.1,"e":430},{"a":55.1,"e":446},{"a":55.1,"e":461},{"a":55.1,"e":475},{"a":55.1,"e":488},{"a":55.1,"e":499},{"a":55.1,"e":509},{"a":55.1,"e":519},{"a":55.1,"e":530},{"a":55.1,"e":542},{"a":55.1,"e":555},
{"a":56.0,"e":373},{"a":56.0,"e":391},{"a":56.0,"e":409},{"a":56.0,"e":426},{"a":56.0,"e":442},{"a":56.0,"e":457},{"a":56.0,"e":471},{"a":56.0,"e":483},{"a":56.0,"e":494},{"a":56.0,"e":504},{"a":56.0,"e":514},{"a":56.0,"e":525},{"a":56.0,"e":537},{"a":56.0,"e":550},{"a":56.0,"e":562},
{"a":56.9,"e":378},{"a":56.9,"e":396},{"a":56.9,"e":413},{"a":56.9,"e":429},{"a":56.9,"e":445},{"a":56.9,"e":460},{"a":56.9,"e":474},{"a":56.9,"e":486},{"a":56.9,"e":497},{"a":56.9,"e":507},{"a":56.9,"e":517},{"a":56.9,"e":528},{"a":56.9,"e":540},{"a":56.9,"e":553},
{"a":57.8,"e":382},{"a":57.8,"e":400},{"a":57.8,"e":417},{"a":57.8,"e":433},{"a":57.8,"e":448},{"a":57.8,"e":462},{"a":57.8,"e":475},{"a":57.8,"e":487},{"a":57.8,"e":498},{"a":57.8,"e":508},{"a":57.8,"e":518},{"a":57.8,"e":529},{"a":57.8,"e":541},{"a":57.8,"e":554},
{"a":58.7,"e":377},{"a":58.7,"e":395},{"a":58.7,"e":412},{"a":58.7,"e":428},{"a":58.7,"e":443},{"a":58.7,"e":458},{"a":58.7,"e":471},{"a":58.7,"e":483},{"a":58.7,"e":494},{"a":58.7,"e":504},{"a":58.7,"e":514},{"a":58.7,"e":525},{"a":58.7,"e":537},{"a":58.7,"e":550},{"a":58.7,"e":561},
{"a":59.6,"e":383},{"a":59.6,"e":401},{"a":59.6,"e":418},{"a":59.6,"e":434},{"a":59.6,"e":449},{"a":59.6,"e":463},{"a":59.6,"e":476},{"a":59.6,"e":488},{"a":59.6,"e":499},{"a":59.6,"e":509},{"a":59.6,"e":519},{"a":59.6,"e":530},{"a":59.6,"e":542},{"a":59.6,"e":555},
{"a":60.5,"e":376},{"a":60.5,"e":394},{"a":60.5,"e":411},{"a":60.5,"e":427},{"a":60.5,"e":442},{"a":60.5,"e":456},{"a":60.5,"e":469},{"a":60.5,"e":481},{"a":60.5,"e":492},{"a":60.5,"e":502},{"a":60.5,"e":512},{"a":60.5,"e":523},{"a":60.5,"e":535},{"a":60.5,"e":547},
{"a":61.4,"e":372},{"a":61.4,"e":391},{"a":61.4,"e":409},{"a":61.4,"e":426},{"a":61.4,"e":442},{"a":61.4,"e":457},{"a":61.4,"e":470},{"a":61.4,"e":482},{"a":61.4,"e":493},{"a":61.4,"e":503},{"a":61.4,"e":513},{"a":61.4,"e":524},{"a":61.4,"e":536}
      ]},
      "mark": {"type": "point", "shape": "circle", "size": 72, "filled": false, "stroke": "#0072BD", "strokeWidth": 1.2, "strokeOpacity": 0.75, "opacity": 1},
      "encoding": {
        "x": {"field": "a", "type": "quantitative", "scale": {"domain": [0.6, 62.92], "nice": false, "zero": false},
              "axis": {"orient": "bottom", "values": [10, 20, 30, 40, 50, 60], "tickSize": -5, "labelPadding": 20, "labelFontSize": 20, "title": "Disorientation Angle [°]", "titleFontSize": 22, "titlePadding": 11}},
        "y": {"field": "e", "type": "quantitative", "scale": {"domain": [0, 605], "nice": false},
              "axis": {"orient": "left", "values": [0, 100, 200, 300, 400, 500, 600], "tickSize": -5, "labelPadding": 14, "labelFontSize": 20, "title": "GB Energy [mJ/m²]", "titleFontSize": 22, "titlePadding": 10}}
      }
    },
    {
      "data": {"values": [
        {"a":0.6,"e":48},{"a":1.5,"e":93},{"a":2.4,"e":138},{"a":3.9,"e":188},{"a":5.0,"e":222},{"a":7.1,"e":270},{"a":9.7,"e":330},{"a":11.5,"e":365},{"a":13.9,"e":398},{"a":16,"e":424},{"a":18,"e":448},{"a":20,"e":468},{"a":22.2,"e":485},{"a":24.5,"e":499},{"a":26.3,"e":509},{"a":28.2,"e":517},{"a":30.5,"e":524},{"a":33.9,"e":530},{"a":36,"e":533},{"a":38.6,"e":533},{"a":41,"e":529},{"a":42.8,"e":525},{"a":44.3,"e":521},{"a":46.8,"e":512},{"a":49.5,"e":501},{"a":52,"e":487},{"a":54.8,"e":468},{"a":57.5,"e":450},{"a":60,"e":435},{"a":61.3,"e":427},{"a":62,"e":421}
      ]},
      "mark": {"type": "line", "stroke": "#FF00FF", "strokeWidth": 5, "strokeDash": [17, 19], "strokeCap": "butt"},
      "encoding": {
        "x": {"field": "a", "type": "quantitative", "axis": null},
        "y": {"field": "e", "type": "quantitative", "axis": null}
      }
    },
    {
      "data": {"values": [
        {"a":0.6,"e":52},{"a":1.0,"e":78},{"a":1.5,"e":106},{"a":2.2,"e":140},{"a":3.1,"e":177},{"a":4.0,"e":208},{"a":4.9,"e":236},{"a":6.3,"e":277},{"a":7.8,"e":314},{"a":9.3,"e":345},{"a":11,"e":373},{"a":13,"e":403},{"a":15.4,"e":433},{"a":17.8,"e":460},{"a":20.4,"e":485},{"a":23,"e":501},{"a":25.8,"e":513},{"a":28.5,"e":521},{"a":31.3,"e":526},{"a":33.5,"e":528},{"a":35.5,"e":528},{"a":38,"e":525},{"a":40.5,"e":520},{"a":44.1,"e":510},{"a":48.3,"e":497},{"a":52.4,"e":483},{"a":56.6,"e":468},{"a":60.3,"e":454},{"a":62.92,"e":446}
      ]},
      "mark": {"type": "line", "stroke": "#00FF00", "strokeWidth": 4.5, "strokeDash": [4.3, 4.9], "strokeCap": "butt"},
      "encoding": {
        "x": {"field": "a", "type": "quantitative", "axis": null},
        "y": {"field": "e", "type": "quantitative", "axis": null}
      }
    },
    {
      "data": {"values": [
        {"a":9.5,"e":215,"s":"111 Symm. Twist"},{"a":15.1,"e":251,"s":"111 Symm. Twist"},{"a":21.85,"e":271,"s":"111 Symm. Twist"},{"a":27.8,"e":276,"s":"111 Symm. Twist"},{"a":33.3,"e":278,"s":"111 Symm. Twist"},{"a":38.3,"e":271,"s":"111 Symm. Twist"},{"a":46.9,"e":242,"s":"111 Symm. Twist"},{"a":52.7,"e":198,"s":"111 Symm. Twist"},{"a":60.05,"e":75,"s":"111 Symm. Twist"}
      ]},
      "mark": {"type": "point", "filled": false, "size": 64, "strokeWidth": 2.2, "opacity": 1},
      "encoding": {
        "x": {"field": "a", "type": "quantitative", "axis": {"orient": "top", "values": [10, 20, 30, 40, 50, 60], "tickSize": -5, "labels": false, "title": null}},
        "y": {"field": "e", "type": "quantitative", "axis": {"orient": "right", "values": [0, 100, 200, 300, 400, 500, 600], "tickSize": -5, "labels": false, "title": null}},
        "color": {"field": "s", "type": "nominal",
          "scale": {"domain": ["GBs", "Eq. 2a", "Eq. 2b", "111 Symm. Twist"], "range": ["#9cc6e8", "#ff00ff", "#00ff00", "#fa6a30"]},
          "legend": {
            "title": null, "orient": "none", "legendX": 0, "legendY": 314,
            "padding": 11, "rowPadding": 11, "symbolSize": 100, "symbolStrokeWidth": 1.8,
            "symbolOffset": 25, "labelOffset": 33,
            "labelFont": "DejaVu Sans", "labelFontSize": 21, "labelColor": "#000000", "labelLimit": 300,
            "strokeColor": "#4d4d4d",
            "labelExpr": "datum.label == '111 Symm. Twist' ? ['111 Symm.', 'Twist'] : datum.label"
          }
        },
        "shape": {"field": "s", "type": "nominal",
          "scale": {"domain": ["GBs", "Eq. 2a", "Eq. 2b", "111 Symm. Twist"], "range": [
            "M0.75,0A0.75,0.75,0,1,1,-0.75,0A0.75,0.75,0,1,1,0.75,0Z",
            "M-7,-0.3H-3.4M-7,0H-3.4M-7,0.3H-3.4M0.2,-0.3H4M0.2,0H4M0.2,0.3H4",
            "M-7,-0.2h0.7M-7,0.2h0.7M-5.1,-0.2h0.7M-5.1,0.2h0.7M-3.2,-0.2h0.7M-3.2,0.2h0.7M-1.3,-0.2h0.7M-1.3,0.2h0.7M0.6,-0.2h0.7M0.6,0.2h0.7M2.5,-0.2h0.7M2.5,0.2h0.7M4.4,-0.2h0.7M4.4,0.2h0.7M6.3,-0.2h0.7M6.3,0.2h0.7",
            "circle"]},
          "legend": {
            "title": null, "orient": "none", "legendX": 0, "legendY": 314,
            "padding": 11, "rowPadding": 11, "symbolSize": 100, "symbolStrokeWidth": 1.8,
            "symbolOffset": 25, "labelOffset": 33,
            "labelFont": "DejaVu Sans", "labelFontSize": 21, "labelColor": "#000000", "labelLimit": 300,
            "strokeColor": "#4d4d4d",
            "labelExpr": "datum.label == '111 Symm. Twist' ? ['111 Symm.', 'Twist'] : datum.label"
          }
        }
      }
    }
    ]
  },
  {
    "width": 398, "height": 110,
    "layer": [
    {
      "data": {"values": [
        {"i":0,"a":4,"c":0},{"i":1,"a":4,"c":5},{"i":2,"a":6,"c":3.3},{"i":3,"a":8,"c":11},{"i":4,"a":10,"c":3.3},{"i":5,"a":12,"c":20.7},{"i":6,"a":14,"c":4},{"i":7,"a":16,"c":26},{"i":8,"a":18,"c":0},{"i":9,"a":20,"c":15.7},{"i":10,"a":22,"c":38.7},{"i":11,"a":24,"c":32.7},{"i":12,"a":26,"c":40.7},{"i":13,"a":28,"c":28.3},{"i":14,"a":30,"c":37.7},{"i":15,"a":32,"c":44.3},{"i":16,"a":34,"c":61.7},{"i":17,"a":36,"c":52.3},{"i":18,"a":38,"c":60},{"i":19,"a":40,"c":56.7},{"i":20,"a":42,"c":77.7},{"i":21,"a":44,"c":109},{"i":22,"a":46,"c":51},{"i":23,"a":48,"c":96.7},{"i":24,"a":50,"c":67.7},{"i":25,"a":52,"c":85},{"i":26,"a":54,"c":44.3},{"i":27,"a":56,"c":79},{"i":28,"a":58,"c":19.7},{"i":29,"a":60,"c":45.7},{"i":30,"a":62,"c":0}
      ]},
      "mark": {"type": "line", "interpolate": "step-after", "stroke": "#0072BD", "strokeWidth": 1.3},
      "encoding": {
        "x": {"field": "a", "type": "quantitative", "scale": {"domain": [0.6, 62.92], "nice": false, "zero": false}, "axis": {"orient": "bottom", "ticks": false, "labels": false, "title": null, "domainWidth": 1.2}},
        "y": {"field": "c", "type": "quantitative", "scale": {"domain": [0, 110], "nice": false}, "axis": null},
        "order": {"field": "i", "type": "quantitative"}
      }
    },
    {
      "data": {"values": [
        {"a":0.6,"c":0},{"a":2.5,"c":0.3},{"a":5,"c":1.3},{"a":7.5,"c":2.8},{"a":10,"c":5},{"a":12.5,"c":7.8},{"a":15,"c":11.2},{"a":17.5,"c":15.2},{"a":20,"c":19.9},{"a":22.5,"c":25.1},{"a":25,"c":30.9},{"a":27.5,"c":37.2},{"a":30,"c":44.1},{"a":32.5,"c":51.6},{"a":35,"c":59.6},{"a":37.5,"c":68.1},{"a":40,"c":77.1},{"a":42.5,"c":86.6},{"a":45,"c":96.5},{"a":47.5,"c":88.1},{"a":50,"c":78.2},{"a":52.5,"c":67},{"a":55,"c":54.4},{"a":57.5,"c":40.4},{"a":60,"c":25.1},{"a":60.4,"c":19},{"a":60.8,"c":12},{"a":61.2,"c":6},{"a":61.6,"c":2},{"a":62.1,"c":0.3},{"a":62.6,"c":0}
      ]},
      "mark": {"type": "line", "stroke": "#FF0000", "strokeWidth": 5, "strokeJoin": "round"},
      "encoding": {
        "x": {"field": "a", "type": "quantitative"},
        "y": {"field": "c", "type": "quantitative"}
      }
    },
    {
      "data": {"values": [{"a": 39.75, "c": 80, "t": "Mackenzie Distribution →"}]},
      "mark": {"type": "text", "align": "right", "baseline": "middle", "fontSize": 21, "font": "DejaVu Sans", "color": "#000000"},
      "encoding": {
        "x": {"field": "a", "type": "quantitative"},
        "y": {"field": "c", "type": "quantitative"},
        "text": {"field": "t"}
      }
    }
    ]
  }
  ]
}
]
}
